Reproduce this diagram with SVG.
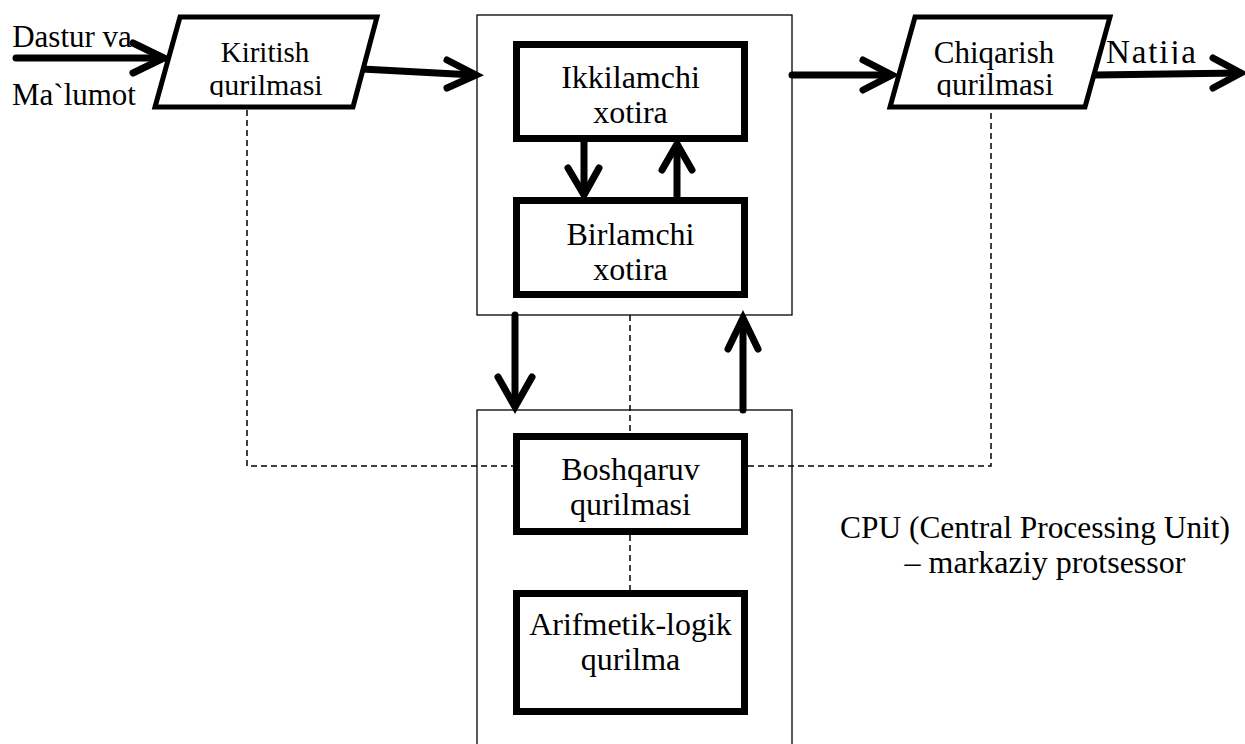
<svg xmlns="http://www.w3.org/2000/svg" width="1245" height="744" viewBox="0 0 1245 744">
<style>
text{font-family:"Liberation Serif","Times New Roman",serif;font-size:32px;fill:#000;text-anchor:middle}
.thin{fill:#fff;stroke:#000;stroke-width:1.3}
.thick{fill:#fff;stroke:#000;stroke-width:7}
.para{fill:#fff;stroke:#000;stroke-width:5;stroke-linejoin:miter}
.arr{fill:none;stroke:#000;stroke-width:7;stroke-linecap:round;stroke-linejoin:miter}
.dash{fill:none;stroke:#000;stroke-width:1.5;stroke-dasharray:6 4}
</style>
<defs>
<clipPath id="clipK"><rect x="150" y="0" width="240" height="97"/></clipPath>
<clipPath id="clipC"><rect x="880" y="0" width="240" height="97"/></clipPath>
<clipPath id="clipN"><rect x="1090" y="0" width="155" height="64"/></clipPath>
</defs>
<rect width="1245" height="744" fill="#fff"/>

<g id="cpu-memory-box">
<rect class="thin" x="477" y="15" width="315" height="300"/>
</g>
<g id="cpu-control-box">
<rect class="thin" x="477" y="410" width="315" height="340"/>
</g>

<g id="connectors">
<path class="dash" d="M247,110 V466 H513"/>
<path class="dash" d="M748,466 H991 V110"/>
<path class="dash" d="M630,315 V433"/>
<path class="dash" d="M630,535 V590"/>
<path class="arr" d="M16,58 H163"/>
<polyline class="arr" points="133,43 164,58 133,73"/>
<path class="arr" d="M362,69 L474,75"/>
<polyline class="arr" points="447,60 476,75 447,88"/>
<path class="arr" d="M792,75 H890"/>
<polyline class="arr" points="863,60 892,75 863,90"/>
<path class="arr" d="M1095,75 L1240,73"/>
<polyline class="arr" points="1213,58 1241,73 1213,88"/>
<path class="arr" d="M584,142 V194"/>
<polyline class="arr" points="568,168 584,195 599,168"/>
<path class="arr" d="M677,197 V145"/>
<polyline class="arr" points="662,170 677,144 692,170"/>
<path class="arr" d="M515,315 V405"/>
<polyline class="arr" points="498,377 515,407 532,377"/>
<path class="arr" d="M743,410 V320"/>
<polyline class="arr" points="728,349 743,318 758,349"/>
</g>

<g id="input-labels">
<text x="72" y="47" style="font-size:31px">Dastur va</text>
<text x="74" y="105" style="font-size:31px">Ma`lumot</text>
</g>

<g id="kiritish">
<polygon class="para" points="180,17 377,17 353,107 155,107"/>
<text x="265" y="62" style="font-size:29px">Kiritish</text>
<text x="266" y="95" clip-path="url(#clipK)" style="font-size:30px">qurilmasi</text>
</g>

<g id="ikkilamchi">
<rect class="thick" x="516.5" y="44.5" width="228" height="94"/>
<text x="630.5" y="88">Ikkilamchi</text>
<text x="630.5" y="123">xotira</text>
</g>

<g id="birlamchi">
<rect class="thick" x="516.5" y="200.5" width="228" height="94"/>
<text x="630.5" y="245">Birlamchi</text>
<text x="630.5" y="280">xotira</text>
</g>

<g id="chiqarish">
<polygon class="para" points="915,17 1110,17 1085,107 890,107"/>
<text x="994" y="63" style="font-size:31px">Chiqarish</text>
<text x="995" y="95" clip-path="url(#clipC)" style="font-size:31px">qurilmasi</text>
</g>

<g id="natija">
<text x="1151" y="63" clip-path="url(#clipN)" textLength="90" lengthAdjust="spacing" style="font-size:33px">Natija</text>
</g>

<g id="boshqaruv">
<rect class="thick" x="516.5" y="436.5" width="228" height="95"/>
<text x="630.5" y="480">Boshqaruv</text>
<text x="630.5" y="515">qurilmasi</text>
</g>

<g id="alu">
<rect class="thick" x="516.5" y="593.5" width="228" height="118"/>
<text x="630.5" y="635">Arifmetik-logik</text>
<text x="630.5" y="670">qurilma</text>
</g>

<g id="cpu-label">
<text x="1035" y="538" textLength="390" lengthAdjust="spacingAndGlyphs">CPU (Central Processing Unit)</text>
<text x="1045" y="573">– markaziy protsessor</text>
</g>
</svg>
